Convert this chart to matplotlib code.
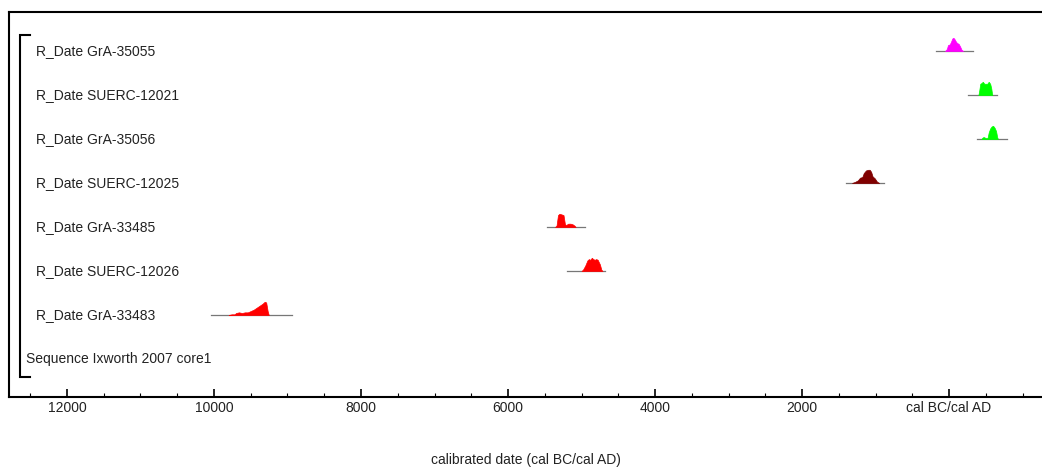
import matplotlib
matplotlib.use("Agg")
import matplotlib.pyplot as plt
import matplotlib.transforms as mtransforms

plt.rcParams['font.family'] = ['Liberation Sans', 'DejaVu Sans']

labels = ["R_Date GrA-35055", "R_Date SUERC-12021", "R_Date GrA-35056",
          "R_Date SUERC-12025", "R_Date GrA-33485", "R_Date SUERC-12026",
          "R_Date GrA-33483"]
sequence_label = "Sequence Ixworth 2007 core1"
colors = ["#ff00ff", "#00ff00", "#00ff00", "#800000", "#ff0000", "#ff0000", "#ff0000"]

# calendar years BC (negative = AD) and relative probability
years = [
    [54, 30, 14, -10, -27, -45, -60, -75, -90, -109, -130, -150, -170, -190],
    [-400, -410, -425, -440, -460, -480, -500, -520, -540, -560, -575, -585, -590],
    [-440, -455, -470, -490, -510, -525, -540, -560, -580, -600, -620, -640, -655, -665],
    [1320, 1280, 1240, 1211, 1180, 1160, 1130, 1100, 1080, 1060, 1040, 1010, 980, 950],
    [5360, 5340, 5320, 5300, 5270, 5245, 5225, 5210, 5180, 5150, 5120, 5095, 5080],
    [5000, 4980, 4950, 4920, 4900, 4880, 4860, 4840, 4820, 4800, 4780, 4750, 4730, 4715],
    [9800, 9760, 9720, 9700, 9660, 9620, 9580, 9540, 9500, 9460, 9420, 9380, 9340,
     9310, 9290, 9270, 9255],
]
probs = [
    [0, 0.15, 0.45, 0.5, 0.7, 0.95, 1.0, 0.9, 0.75, 0.6, 0.55, 0.35, 0.1, 0],
    [0, 0.3, 0.85, 0.9, 1.0, 0.85, 0.85, 0.85, 1.0, 0.85, 0.5, 0.1, 0],
    [0, 0.1, 0.15, 0.1, 0.05, 0.1, 0.5, 0.8, 0.95, 1.0, 0.85, 0.6, 0.15, 0],
    [0, 0.08, 0.2, 0.4, 0.45, 0.75, 0.95, 1.0, 1.0, 0.85, 0.5, 0.35, 0.1, 0],
    [0, 0.1, 0.9, 1.0, 0.95, 0.9, 0.2, 0.15, 0.25, 0.25, 0.2, 0.1, 0],
    [0, 0.1, 0.4, 0.8, 0.9, 0.85, 1.0, 0.9, 0.85, 0.9, 0.85, 0.5, 0.1, 0],
    [0, 0.05, 0.05, 0.15, 0.2, 0.15, 0.2, 0.2, 0.3, 0.4, 0.55, 0.7, 0.85, 1.0, 0.95, 0.3, 0],
]
# extent of the thin range line under each distribution
range_start = [177, -258, -381, 1401, 5469, 5197, 10041]
range_end = [-327, -653, -789, 884, 4952, 4680, 8939]

major_ticks = [12000, 10000, 8000, 6000, 4000, 2000, 0]
major_labels = ["12000", "10000", "8000", "6000", "4000", "2000", "cal BC/cal AD"]
minor_ticks = list(range(-1000, 12501, 500))

fig = plt.figure(figsize=(10.42, 4.68), dpi=100)
ax = fig.add_axes([9/1042, 1 - 397/468, 1 - 9/1042, (397 - 12)/468])

txt_color = "#222222"
peak_h = 0.3
bt = mtransforms.blended_transform_factory(ax.transAxes, ax.transData)
for i, (xs, ps) in enumerate(zip(years, probs)):
    ax.plot([range_start[i], range_end[i]], [i, i], color="#777777", lw=0.9, zorder=1)
    top = [i - p * peak_h for p in ps]
    ax.fill_between(xs, [i] * len(xs), top, color=colors[i], lw=0.5, zorder=2)
    ax.text(0.026, i, labels[i], transform=bt,
            va="center", ha="left", fontsize=10, color=txt_color)

n = len(labels)
ax.text(0.016, n, sequence_label, transform=bt,
        va="center", ha="left", fontsize=10, color=txt_color)

# sequence bracket
ax.plot([0.0203, 0.0106, 0.0106, 0.0203], [-0.364, -0.364, 7.41, 7.41],
        transform=bt, color="black", lw=1.5, solid_joinstyle="miter", clip_on=False)

ax.set_xlim(12789, -1265)
ax.set_ylim(7.864, -0.886)
ax.set_yticks([])
ax.set_xticks(major_ticks)
ax.set_xticklabels(major_labels)
ax.set_xticks(minor_ticks, minor=True)
ax.tick_params(axis="x", which="major", direction="in", length=6, width=1.2, pad=3,
               labelsize=10, labelcolor=txt_color)
ax.tick_params(axis="x", which="minor", direction="in", length=3, width=0.8)
for s in ["top", "left", "bottom"]:
    ax.spines[s].set_linewidth(1.5)
ax.spines["right"].set_visible(False)
ax.set_xlabel("calibrated date (cal BC/cal AD)", fontsize=10, labelpad=27, color=txt_color)

fig.savefig("out.png", dpi=100)
